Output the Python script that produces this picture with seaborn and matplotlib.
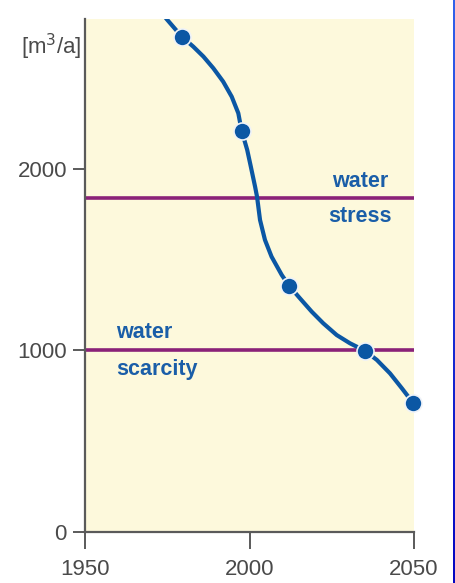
import numpy as np
import pandas as pd
import matplotlib
matplotlib.use("Agg")
import matplotlib.pyplot as plt
import seaborn as sns

# traced curve (year, m3 per capita per year)
curve_years = [1974.6, 1979.4, 1982.9, 1986.0, 1989.0, 1992.0, 1994.6, 1996.6, 1997.6,
               1999.3, 2000.4, 2001.7, 2002.3, 2003.2, 2004.7, 2006.7, 2009.8, 2012.1,
               2015.3, 2018.9, 2022.4, 2026.5, 2030.5, 2035.0, 2038.7, 2042.7, 2046.3,
               2049.8]
curve_values = [2830, 2729, 2674, 2619, 2555, 2481, 2398, 2307, 2211,
                2105, 2013, 1902, 1846, 1719, 1609, 1517, 1416, 1355,
                1288, 1214, 1150, 1085, 1040, 999, 948, 874, 792,
                709]

# marked points
point_years = [1979.4, 1997.6, 2012.1, 2035.0, 2049.8]
point_values = [2729, 2211, 1355, 999, 709]

stress_level = 1840
scarcity_level = 1000

x_ticks = [1950, 2000, 2050]
y_ticks = [0, 1000, 2000]

BLUE = "#0b57a4"
PURPLE = "#8a2278"
GREY = "#4a4a4a"

sns.set_style("white")
plt.rcParams['font.family'] = ['Liberation Sans', 'DejaVu Sans']

fig = plt.figure(figsize=(4.56, 5.83), dpi=100)
ax = fig.add_axes([85 / 456, 51 / 583, 329 / 456, 513 / 583])
ax.set_facecolor("#fdf9dc")

curve = pd.DataFrame({"year": curve_years, "value": curve_values})
points = pd.DataFrame({"year": point_years, "value": point_values})

ax.axhline(stress_level, color=PURPLE, lw=2.6, zorder=2)
ax.axhline(scarcity_level, color=PURPLE, lw=2.6, zorder=2)

sns.lineplot(data=curve, x="year", y="value", ax=ax, color=BLUE, lw=3,
             sort=False, zorder=3)
sns.scatterplot(data=points, x="year", y="value", ax=ax, color=BLUE, s=150,
                edgecolor="#eef2f8", linewidth=1.2, zorder=4, clip_on=False)

ax.set_xlim(1950, 2050)
ax.set_ylim(0, 2826)
ax.set_xticks(x_ticks)
ax.set_yticks(y_ticks)
ax.set_xlabel("")
ax.set_ylabel("")

for side in ["top", "right"]:
    ax.spines[side].set_visible(False)
for side in ["left", "bottom"]:
    ax.spines[side].set_color("#5a5a5a")
    ax.spines[side].set_linewidth(1.6)

ax.tick_params(axis="x", direction="out", length=12.5, width=1.4, color="#5a5a5a",
               labelsize=16, labelcolor=GREY, pad=7, bottom=True)
ax.tick_params(axis="y", direction="out", length=9, width=1.4, color="#5a5a5a",
               labelsize=16, labelcolor=GREY, pad=4, left=True)

txt = dict(color="#1a5ea8", fontsize=15.5, fontweight="bold")
ax.text(2033.5, 1930, "water", ha="center", va="center", **txt)
ax.text(2033.5, 1740, "stress", ha="center", va="center", **txt)
ax.text(1959.5, 1100, "water", ha="left", va="center", **txt)
ax.text(1959.5, 895, "scarcity", ha="left", va="center", **txt)

fig.text(51 / 456, 1 - 47 / 583, "[m$^3$/a]", ha="center", va="center",
         fontsize=16, color=GREY)

# blue strip on the right edge
strip = fig.add_axes([453 / 456, 0, 3 / 456, 1])
grad = np.linspace(0, 1, 256).reshape(-1, 1)
cmap = matplotlib.colors.LinearSegmentedColormap.from_list("edge", ["#3262ea", "#0505c0"])
strip.imshow(grad, aspect="auto", cmap=cmap)
strip.axis("off")

fig.savefig("out.png", dpi=100)
